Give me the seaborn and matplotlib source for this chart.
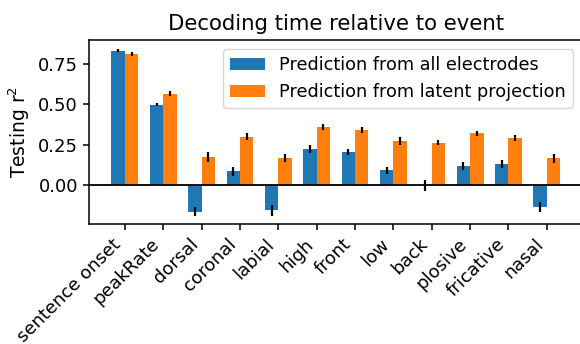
import matplotlib
matplotlib.use("Agg")
import matplotlib.pyplot as plt
import seaborn as sns
import pandas as pd
import numpy as np

categories = ["sentence onset", "peakRate", "dorsal", "coronal", "labial", "high",
              "front", "low", "back", "plosive", "fricative", "nasal"]
all_electrodes = [0.833, 0.498, -0.165, 0.085, -0.157, 0.223, 0.206, 0.091, -0.002, 0.116, 0.130, -0.136]
all_electrodes_err = [0.010, 0.010, 0.029, 0.029, 0.033, 0.022, 0.018, 0.020, 0.033, 0.025, 0.026, 0.031]
latent_projection = [0.814, 0.566, 0.175, 0.300, 0.167, 0.360, 0.341, 0.271, 0.262, 0.320, 0.293, 0.165]
latent_projection_err = [0.012, 0.017, 0.030, 0.020, 0.023, 0.018, 0.020, 0.025, 0.017, 0.015, 0.019, 0.026]
series_names = ["Prediction from all electrodes", "Prediction from latent projection"]
yticks = [0.0, 0.25, 0.5, 0.75]

df = pd.DataFrame({
    "category": categories * 2,
    "value": all_electrodes + latent_projection,
    "err": all_electrodes_err + latent_projection_err,
    "series": [series_names[0]] * len(categories) + [series_names[1]] * len(categories),
})

plt.rcParams["font.family"] = ["DejaVu Sans"]
plt.rcParams["font.size"] = 13
plt.rcParams["axes.linewidth"] = 1.1
plt.rcParams["xtick.major.width"] = 1.1
plt.rcParams["ytick.major.width"] = 1.1
plt.rcParams["xtick.major.size"] = 4.5
plt.rcParams["ytick.major.size"] = 4.5

fig = plt.figure(figsize=(5.8, 3.44), dpi=100)
ax = fig.add_axes([89 / 580, 1 - 224 / 344, (582.7 - 89) / 580, (224 - 40) / 344])

sns.barplot(data=df, x="category", y="value", hue="series", order=categories,
            hue_order=series_names, palette=["#1f77b4", "#ff7f0e"], saturation=1,
            width=0.7, errorbar=None, ax=ax)

# error bars at the bar centres
for i, s in enumerate(series_names):
    sub = df[df["series"] == s]
    xs = np.arange(len(categories)) + (-0.175 if i == 0 else 0.175)
    ax.errorbar(xs, sub["value"].values, yerr=sub["err"].values, fmt="none",
                ecolor="black", elinewidth=1.6, capsize=0, zorder=5)

ax.axhline(0, color="black", lw=1.3, zorder=4)
ax.set_xlim(-0.935, 11.935)
ax.set_ylim(-0.242, 0.899)
ax.set_yticks(yticks)
ax.set_yticklabels([f"{v:.2f}" for v in yticks])
ax.set_xlabel("")
ax.set_ylabel("Testing r$^2$", fontsize=13.5)
ax.set_title("Decoding time relative to event", fontsize=15.3, pad=7)
plt.setp(ax.get_xticklabels(), rotation=45, ha="right", rotation_mode="default")
ax.legend(loc="upper right", fontsize=12.7, title=None, borderaxespad=0,
          bbox_to_anchor=((573 - 89) / 493.7, (224 - 49) / 184))

fig.savefig("out.png", dpi=100)
